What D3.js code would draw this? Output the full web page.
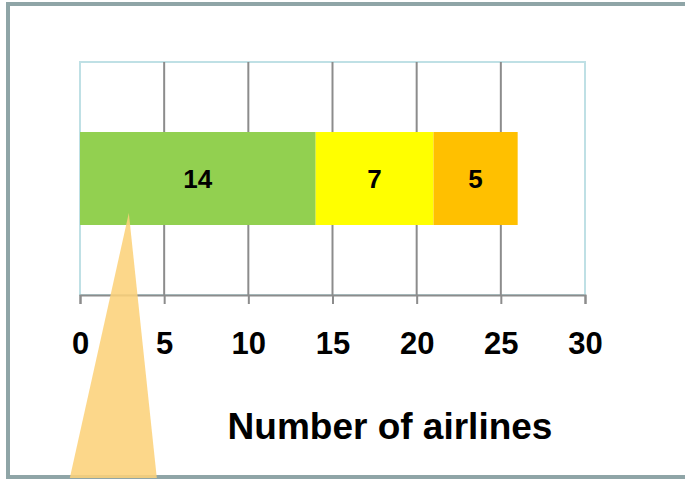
<!DOCTYPE html>
<head>
    <script src="https://d3js.org/d3.v7.min.js"></script>
    <style>
        body { margin:0; background:#fff; }
        text { font-family: 'Liberation Sans', Arial, sans-serif; font-weight:bold; }
    </style>
</head>
<body>
    <div id='container'></div>
    <script>
        // stacked bar segments
        const segments = ['Group 1', 'Group 2', 'Group 3'];
        const values = [14, 7, 5];
        const colors = ['#92D050', '#FFFF00', '#FFC000'];
        const tickValues = [0, 5, 10, 15, 20, 25, 30];
        const xTitle = 'Number of airlines';

        const w = 685;
        const h = 479;
        const pLeft = 80, pRight = 585, pTop = 62, pBottom = 295;

        const xScale = d3.scaleLinear().domain([0, 30]).range([pLeft, pRight]);
        const yScale = d3.scaleBand().domain(['bar']).range([pTop, pBottom]).paddingInner(0).paddingOuter(0.753);

        const svg = d3.select('#container').append('svg')
                      .attr('width', w).attr('height', h);

        // outer frame
        svg.append('rect')
           .attr('x', 8).attr('y', 4).attr('width', 700).attr('height', 473)
           .attr('fill', 'none').attr('stroke', '#8FA5A7').attr('stroke-width', 4);

        // plot frame (light blue)
        svg.append('rect')
           .attr('x', pLeft).attr('y', pTop).attr('width', pRight - pLeft).attr('height', pBottom - pTop)
           .attr('fill', 'none').attr('stroke', '#BFE0E5').attr('stroke-width', 2);

        // gridlines
        svg.selectAll('.grid')
           .data(tickValues.slice(1, -1))
           .enter().append('line')
           .attr('x1', d => xScale(d)).attr('x2', d => xScale(d))
           .attr('y1', pTop).attr('y2', pBottom)
           .attr('stroke', '#8C8C8C').attr('stroke-width', 2);

        // bars
        let cum = 0;
        const stacked = values.map((v, i) => { const s = cum; cum += v; return {name: segments[i], v: v, s: s, e: cum, c: colors[i]}; });
        const y0 = yScale('bar');
        const bh = yScale.bandwidth();

        svg.selectAll('.bar')
           .data(stacked)
           .enter().append('rect')
           .attr('class', 'bar')
           .attr('x', d => xScale(d.s))
           .attr('y', y0)
           .attr('width', d => xScale(d.e) - xScale(d.s))
           .attr('height', bh)
           .attr('fill', d => d.c);

        svg.selectAll('.lbl')
           .data(stacked)
           .enter().append('text')
           .attr('x', d => (xScale(d.s) + xScale(d.e)) / 2)
           .attr('y', y0 + bh / 2)
           .attr('dy', '0.36em')
           .attr('text-anchor', 'middle')
           .attr('font-size', 26)
           .text(d => d.v);

        // x axis
        const xAxis = d3.axisBottom(xScale).tickValues(tickValues).tickSize(9).tickPadding(28);
        const gx = svg.append('g')
           .attr('transform', 'translate(0,' + pBottom + ')')
           .call(xAxis);
        gx.select('.domain').attr('stroke', '#8C8C8C').attr('stroke-width', 2);
        gx.selectAll('.tick line').attr('stroke', '#8C8C8C').attr('stroke-width', 2);
        gx.selectAll('.tick text')
          .attr('font-size', 31).attr('font-family', "'Liberation Sans', Arial, sans-serif")
          .attr('font-weight', 'bold').attr('fill', '#000');

        svg.append('text')
           .attr('x', 390)
           .attr('y', 439)
           .attr('text-anchor', 'middle')
           .attr('font-size', 37)
           .text(xTitle);

        // callout pointer
        const ax = xScale(2.9), ay = y0 + bh - 12;
        svg.append('path')
           .attr('d', 'M' + ax + ',' + ay + 'L' + (ax - 59) + ',' + 478 + 'L' + (ax + 28) + ',' + 478 + 'Z')
           .attr('fill', '#FCD27A').attr('opacity', 0.88);
    </script>
</body>
